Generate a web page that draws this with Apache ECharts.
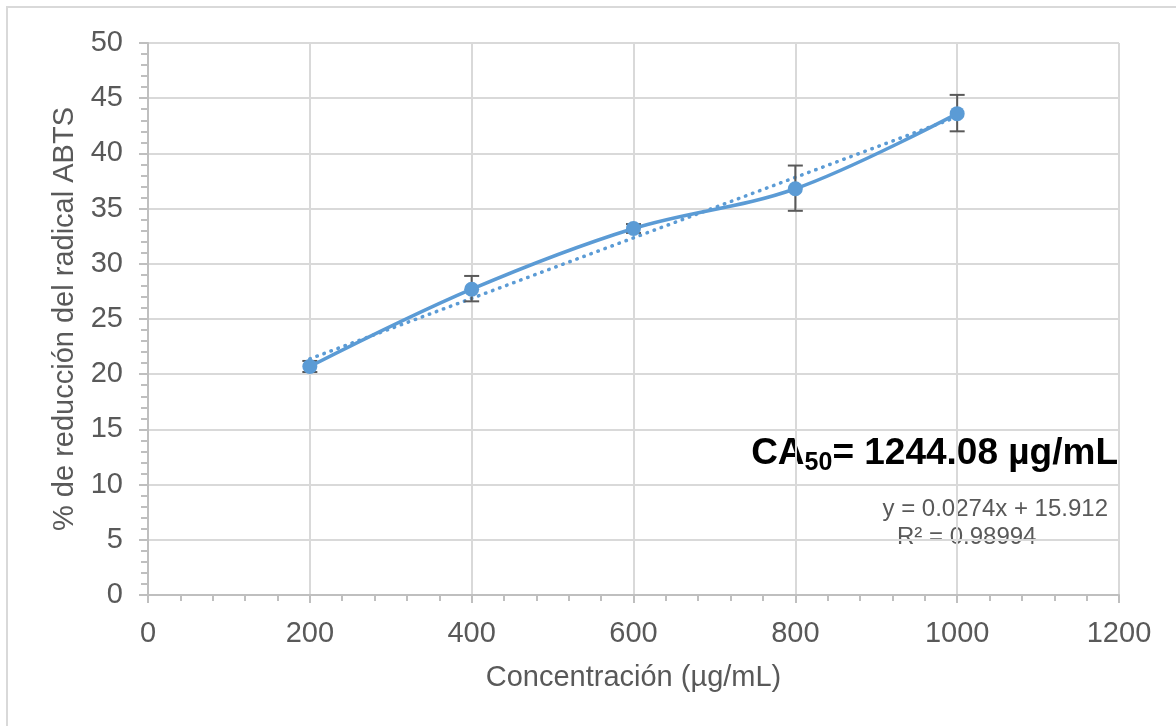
<!DOCTYPE html>
<html>
<head>
<meta charset="utf-8">
<style>
html, body { margin: 0; padding: 0; background: #fff; }
#chart { width: 1176px; height: 726px; }
</style>
<script src="https://cdn.jsdelivr.net/npm/echarts@6/dist/echarts.min.js"></script>
</head>
<body>
<div id="chart"></div>
<script>
// concentraciones (µg/mL) y % de reducción
var concentrations = [200, 400, 600, 800, 1000];
var reduction = [20.7, 27.7, 33.2, 36.8, 43.6];
var errLow = [20.2, 26.6, 32.8, 34.8, 42.0];
var errHigh = [21.2, 28.9, 33.6, 38.9, 45.3];

// línea de tendencia y = 0.0274x + 15.912 (extremos)
var trendX = [200, 1000];
var trendY = [21.39, 43.31];

var xTicks = { min: 0, max: 1200, interval: 200 };
var yTicks = { min: 0, max: 50, interval: 5 };

var gray = '#595959';
var blue = '#5b9bd5';
var font = 'Liberation Sans, Arial, sans-serif';

var chart = echarts.init(document.getElementById('chart'));

var mainData = concentrations.map(function (x, i) { return [x, reduction[i]]; });
var trendData = trendX.map(function (x, i) { return [x, trendY[i]]; });
var errData = concentrations.map(function (x, i) { return [x, errLow[i], errHigh[i]]; });

var option = {
    backgroundColor: '#fff',
    animation: false,
    grid: { left: 148, right: 57, top: 43, bottom: 131 },
    xAxis: {
        type: 'value',
        min: xTicks.min, max: xTicks.max, interval: xTicks.interval,
        name: 'Concentración (µg/mL)',
        nameLocation: 'middle',
        nameGap: 68,
        nameTextStyle: { color: gray, fontSize: 29, fontFamily: font },
        axisLine: { lineStyle: { color: '#bfbfbf', width: 2 } },
        axisTick: { show: true, length: 8, lineStyle: { color: '#bfbfbf', width: 2 } },
        minorTick: { show: true, splitNumber: 5, length: 6, lineStyle: { color: '#bfbfbf', width: 2 } },
        axisLabel: {
            color: gray, fontSize: 29, fontFamily: font, margin: 24,
            formatter: function (v) { return String(v); }
        },
        splitLine: { show: true, lineStyle: { color: '#d9d9d9', width: 2 } }
    },
    yAxis: {
        type: 'value',
        min: yTicks.min, max: yTicks.max, interval: yTicks.interval,
        name: '% de reducción del radical ABTS',
        nameLocation: 'middle',
        nameGap: 61,
        nameTextStyle: { color: gray, fontSize: 29, fontFamily: font },
        axisLine: { show: true, lineStyle: { color: '#bfbfbf', width: 2 } },
        axisTick: { show: true, length: 9, lineStyle: { color: '#bfbfbf', width: 2 } },
        minorTick: { show: true, splitNumber: 5, length: 7, lineStyle: { color: '#bfbfbf', width: 2 } },
        axisLabel: { color: gray, fontSize: 29, fontFamily: font, margin: 25 },
        splitLine: { show: true, lineStyle: { color: '#d9d9d9', width: 2 } }
    },
    series: [
        {
            type: 'line',
            data: trendData,
            showSymbol: false,
            symbol: 'none',
            lineStyle: { color: blue, width: 3.5, type: [0.5, 7], cap: 'round' },
            z: 2
        },
        {
            type: 'custom',
            data: errData,
            renderItem: function (params, api) {
                var x = api.value(0);
                var lo = api.coord([x, api.value(1)]);
                var hi = api.coord([x, api.value(2)]);
                var half = 7.5;
                var style = { stroke: '#595959', lineWidth: 2 };
                return {
                    type: 'group',
                    children: [
                        { type: 'line', shape: { x1: lo[0], y1: lo[1], x2: hi[0], y2: hi[1] }, style: style },
                        { type: 'line', shape: { x1: lo[0] - half, y1: lo[1], x2: lo[0] + half, y2: lo[1] }, style: style },
                        { type: 'line', shape: { x1: hi[0] - half, y1: hi[1], x2: hi[0] + half, y2: hi[1] }, style: style }
                    ]
                };
            },
            z: 3
        },
        {
            type: 'line',
            data: mainData,
            smooth: 0.35,
            symbol: 'circle',
            symbolSize: 15,
            itemStyle: { color: blue },
            lineStyle: { color: blue, width: 3.5 },
            z: 4
        }
    ],
    graphic: [
        {
            type: 'rect',
            shape: { x: 7, y: 7, width: 1300, height: 900 },
            style: { fill: 'none', stroke: '#d9d9d9', lineWidth: 2 },
            silent: true
        },
        {
            type: 'text',
            right: 58,
            top: 435,
            style: {
                text: '{m|CA}{s|50}{m|= 1244.08 µg/mL}',
                rich: {
                    m: { fontSize: 37, fontWeight: 'bold', fontFamily: font, fill: '#000', lineHeight: 44 },
                    s: { fontSize: 25, fontWeight: 'bold', fontFamily: font, fill: '#000', lineHeight: 25, padding: [16, 0, 0, 0], verticalAlign: 'bottom' }
                }
            }
        },
        {
            type: 'text',
            right: 68,
            top: 497,
            style: { text: 'y = 0.0274x + 15.912', fontSize: 24, fontFamily: font, fill: gray }
        },
        {
            type: 'text',
            left: 897,
            top: 525,
            style: { text: 'R² = 0.98994', fontSize: 24, fontFamily: font, fill: gray }
        }
    ]
};

chart.setOption(option);
</script>
</body>
</html>
